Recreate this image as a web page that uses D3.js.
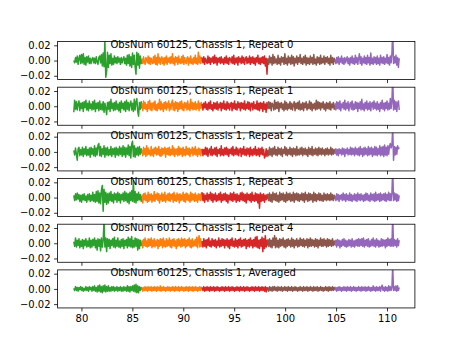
<!DOCTYPE html>
<html>
<head>
<meta charset="utf-8">
<script src="https://cdn.jsdelivr.net/npm/d3@7"></script>
<style>
  body { margin: 0; background: #fff; }
  svg { display: block; }
  text { font-family: "DejaVu Sans", sans-serif; }
</style>
</head>
<body>
<svg id="chart" width="461" height="346"></svg>
<script>
// ---------------- DATA ----------------
// Frequency ranges (x) of the five coloured segments
const segStart = [79.25, 85.95, 91.85, 98.3, 104.9];
const segEnd   = [85.95, 91.85, 98.3, 104.9, 111.2];

const panelTitles = [
  "ObsNum 60125, Chassis 1, Repeat 0",
  "ObsNum 60125, Chassis 1, Repeat 1",
  "ObsNum 60125, Chassis 1, Repeat 2",
  "ObsNum 60125, Chassis 1, Repeat 3",
  "ObsNum 60125, Chassis 1, Repeat 4",
  "ObsNum 60125, Chassis 1, Averaged"
];

const xTicks = [80, 85, 90, 95, 100, 105, 110];
const yTicks = [-0.02, 0.00, 0.02];

// Signal values in units of 0.001, one list per segment
const VALUE_UNIT = 0.001;

const repeat0 = [
  [0,-3,4,-2,6,-5,3,7,-4,8, -3,9,-5,4,-6,5,-2,6,-4,3, -4,2,4,-3,3,-4,5,-2,-5,4, 6,-3,8,-7,10,-8,26,-22,-15,11, -9,7,-4,9,-6,3,-5,6,-3,4, -4,5,-2,3,-5,4,-3,2,5,-4, 3,-6,7,-4,8,-7,5,-9,10,-5, 7,-8,-18,11,-6,9,-10,6,-4,2],
  [3,-4,5,-2,-5,4,2,-3,6,-4, 4,-5,3,-1,-4,5,-3,7,-5,4, -6,9,-3,4,-5,2,5,-4,3,-6, 4,-3,6,-5,3,-2,4,-4,5,-3, 9,-4,3,-6,5,-2,4,-5,6,-3, 2,-4,5,-3,7,-5,4,-2,-4,3, 5,-6,3,-3,6,-4,2,-5,4,-3, 7,-4,3,-5,11,-3,6,-4,4,-2],
  [4,-3,5,-5,3,-1,-4,6,-3,4, -5,3,-2,5,-4,7,-3,4,-6,3, -2,4,-4,5,-3,2,-5,4,-3,6, -4,3,-5,4,2,-3,5,-4,7,-5, 3,-3,4,-6,5,-2,3,-4,6,-3, 4,-5,2,5,-4,3,-3,6,-5,4, -3,5,-4,3,-6,4,-2,7,-4,3, -5,4,-3,5,-4,6,-7,3,-18,2],
  [3,-5,6,-3,4,-6,8,-4,5,-3, 2,-5,7,-4,3,-6,5,-2,4,-5, 9,-4,3,-6,6,-3,4,-5,7,-4, 5,-7,3,-3,6,-5,4,-2,8,-4, 3,-5,5,-3,7,-6,4,-4,3,-5, 6,-3,4,-5,8,-4,2,-6,5,-3, 4,-5,7,-4,3,-3,6,-5,4,-2, 5,-4,3,-6,7,-3,4,-5,3,-2],
  [2,-4,4,-3,5,-5,3,-2,6,-4, 3,-5,4,-3,2,5,-4,3,-6,4, -3,6,-4,3,-5,7,-3,4,-5,3, 9,-4,5,-6,3,-3,6,-4,4,-5, 7,-3,4,-6,10,-4,3,-5,5,-3, 4,-5,6,-4,3,-6,7,-3,4,-4, 5,-5,3,-3,8,-4,4,-6,6,-3, 9,40,-4,5,-3,7,-6,4,-9,3]
];
const repeat1 = [
  [-8,8,-4,6,-5,3,7,-6,4,-3, 5,-7,6,-2,8,-5,4,-6,7,-3, 3,-5,6,-4,8,-7,4,-3,5,-6, 7,-4,3,-5,6,-8,4,-3,-11,5, -4,6,-7,9,-3,4,-6,5,-5,7, -4,3,-6,5,-8,7,-3,4,-5,6, -7,8,-4,5,-6,3,7,-5,4,-7, 9,-5,6,10,-7,-13,5,-4,6,-3],
  [4,-6,7,-3,5,-4,2,-7,6,-3, 8,-5,4,-6,3,5,-4,7,-5,2, -6,4,-3,9,-5,6,-4,3,-7,5, -3,6,-5,4,-2,7,-6,3,-4,5, 8,-5,4,-6,6,-3,5,-7,4,-4, 6,-3,7,-5,3,-6,5,-2,4,-5, 7,-4,3,-6,9,-3,5,-5,4,-4, 6,-5,3,-3,7,-6,4,-3,5,-2],
  [3,-5,4,-2,6,-4,3,-5,5,-3, 7,-4,2,-6,5,-3,4,-4,6,-5, 3,-2,5,-6,4,-3,7,-4,3,-5, 6,-3,4,-5,2,5,-6,4,-3,7, -4,3,-5,6,-2,4,-6,5,-3,4, -4,7,-5,3,-3,6,-4,5,-6,3, 4,-5,6,-3,2,-4,7,-5,4,-6, 5,-3,4,-7,6,-4,3,-8,5,-3],
  [-4,6,-3,5,-6,4,2,-5,8,-4, 5,-3,6,-7,4,-2,5,-4,3,-6, 7,-4,5,-5,3,-3,6,-4,4,-5, 2,6,-6,4,-3,5,-4,7,-5,3, -4,5,-6,4,-2,6,-5,3,-3,7, -4,5,-6,3,-3,4,-5,8,-4,6, -3,5,-5,4,-2,6,-4,3,-6,5, -3,4,-4,6,-5,3,-2,5,-4,2],
  [4,-5,6,-3,5,-4,7,-6,3,-2, 5,-4,8,-5,4,-3,6,-6,2,5, -4,7,-5,3,-4,6,-3,5,-7,4, -3,6,-5,9,-4,3,-6,5,-3,7, -5,4,-4,6,-6,3,5,-4,7,-3, 4,-5,6,-4,3,-7,5,-3,8,-4, 4,-6,5,-3,7,-5,4,-4,10,-3, 6,40,-5,8,-4,6,-7,4,7,-5]
];
const repeat2 = [
  [2,-4,5,-3,-11,4,6,-5,3,-4, 6,-6,4,-3,7,-5,3,-4,5,-7, 6,-3,4,-5,8,-6,5,-4,9,11, -5,7,-6,4,-3,8,-7,5,-4,6, -5,3,-4,7,-6,4,-3,5,-7,6, -4,4,-5,7,-3,5,-6,8,-4,6, -7,5,-3,9,-5,7,-8,10,14,-6, 8,-7,5,-4,6,-5,7,-3,4,-2],
  [3,-5,6,-3,4,-6,8,-4,5,-3, 2,-5,7,-4,3,-6,5,-2,6,-4, 4,-3,7,-5,3,-6,5,-4,4,-2, 6,-7,4,-3,5,-4,6,-5,3,-3, 8,-4,5,-6,3,-3,4,-5,7,-4, 5,-3,4,-6,6,-4,3,-5,7,-3, 4,-4,5,-6,3,-2,6,-5,4,-3, 7,-4,3,-6,5,-3,4,-5,3,-2],
  [4,-5,3,-3,6,-4,5,-6,2,4, -4,7,-5,3,-3,5,-4,6,-6,3, -2,4,-5,8,-4,3,-5,5,-3,6, -4,4,-6,3,-2,5,-4,7,-5,3, -3,6,-4,4,-5,2,5,-6,4,-3, 7,-4,3,-5,5,-3,4,-6,6,-4, 3,-5,4,-3,7,-5,3,-4,5,-6, 4,-3,6,-4,3,-8,-5,4,-6,2],
  [3,-5,6,-4,4,-6,5,-3,7,-4, 3,-5,6,-3,4,-4,5,-6,3,-2, 7,-4,5,-5,3,-3,6,-4,4,-6, 5,-3,4,-5,7,-4,3,-4,5,-3, 6,-5,4,-3,5,-4,3,-6,6,-3, 4,-4,7,-5,3,-3,5,-4,4,-5, 6,-3,4,-4,5,-3,3,-5,4,-3, 5,-4,3,-3,6,-4,4,-3,3,-2],
  [-3,4,-4,3,-5,4,-2,3,-4,5, -3,4,-6,3,-2,5,-4,3,-3,6, -4,5,-3,4,-5,6,-3,4,-4,5, -5,7,-3,4,-6,5,-4,6,-3,4, -5,7,-4,5,-3,6,-6,4,-4,7, -4,6,-5,4,-3,8,-5,6,-4,7, -6,9,-4,6,-5,8,-3,7,11,5, 9,32,-11,7,-4,6,-3,8,4,6]
];
const repeat3 = [
  [3,-4,5,-3,6,-2,4,-5,3,-6, 4,-3,5,-4,2,-6,4,-3,5,-5, 3,-4,7,-5,4,-6,8,-5,9,-7, 6,-8,10,16,-18,11,-6,7,-9,5, -7,6,-4,8,-5,4,-7,6,-3,5, -6,7,-4,5,-7,4,-3,6,-5,8, -4,6,-6,5,-8,7,-4,9,-5,22, -6,8,-7,5,-4,7,-3,4,-5,2],
  [4,-7,5,-3,6,-4,3,-6,7,-5, 4,-3,5,-6,3,-4,8,-5,4,-2, 6,-4,5,-7,3,-3,6,-5,4,-4, 7,-6,3,-3,5,-4,6,-5,4,-2, 5,-6,7,-4,3,-5,6,-3,4,-7, 5,-4,3,-3,7,-5,4,-6,6,-3, 5,-4,3,-6,7,-4,5,-3,4,-5, 6,-4,3,-6,5,-3,4,-4,6,-3],
  [7,-4,5,-6,3,-3,6,-5,4,-2, 7,-4,5,-6,4,-3,6,-5,3,-4, 5,-3,7,-6,4,-4,5,-3,6,-5, 4,-7,3,-3,6,-4,5,-5,7,-3, 4,-6,5,-4,3,-5,6,-3,7,-4, 5,-5,4,-7,6,-3,4,-4,5,-6, 7,-4,3,-5,6,-4,5,-7,4,-14, 6,-5,4,-4,5,-6,3,-3,4,-2],
  [5,-4,6,-5,4,-6,7,-3,5,-4, 6,-5,3,-6,7,-4,5,-3,6,-5, 4,-6,7,-4,5,-3,6,-5,4,-4, 7,-6,5,-3,6,-4,5,-5,4,-3, 6,-4,5,-6,7,-3,4,-5,6,-4, 5,-3,4,-6,7,-4,5,-5,4,-3, 6,-4,5,-4,3,-5,6,-3,4,-4, 5,-3,4,-4,6,-3,4,-4,3,-2],
  [3,-4,5,-3,4,-5,3,-2,4,-4, 6,-3,4,-5,5,-3,3,-4,6,-4, 4,-5,3,-3,5,-4,4,-5,6,-3, 4,-4,5,-3,3,-5,4,-4,6,-3, 5,-4,3,-5,6,-3,4,-4,5,-5, 7,-4,4,-3,5,-5,6,-4,4,-3, 5,-4,6,-5,4,-3,7,-4,5,-4, 6,38,-4,6,-3,5,-5,4,-4,3]
];
const repeat4 = [
  [2,-4,7,-5,4,-3,6,-6,3,-4, 5,-7,4,-3,6,-5,3,-4,7,-6, 4,-5,5,-3,7,-6,4,-9,6,-4, 5,-10,7,-5,4,30,-5,7,-11,6, -4,5,-7,4,-3,6,-5,8,-6,4, -4,7,-5,3,-6,5,-4,6,-7,4, -3,5,-6,8,-4,6,-5,9,-6,4, -5,7,-4,6,-9,5,-7,4,-3,2],
  [4,-6,5,-3,7,-4,3,-5,6,-4, 5,-3,7,-6,4,-4,6,-5,3,-3, 5,-7,4,-4,6,-3,5,-6,7,-4, 3,-5,6,-4,4,-3,7,-5,4,-6, 5,-3,6,-4,3,-7,5,-4,6,-3, 4,-5,7,-4,5,-3,6,-6,4,-4, 5,-3,7,-5,4,-6,6,-4,3,-3, 5,-4,8,-6,4,10,-5,6,-4,2],
  [3,-5,6,-4,4,-6,5,-3,7,-4, 3,-5,6,-3,4,-4,5,-6,3,-3, 7,-5,4,-4,6,-3,5,-6,4,-3, 6,-5,4,-7,5,-3,7,-4,3,-5, 6,-4,4,-6,5,-3,7,-5,4,-4, 5,-3,6,-7,4,-4,5,-5,7,-3, 4,-6,5,-4,8,-5,9,-6,4,-7, 5,-4,8,-11,6,-7,10,-5,4,-3],
  [5,-4,6,-5,4,-6,7,-3,10,-6, 7,-5,4,-6,6,-4,5,-3,7,-5, 4,-6,5,-4,6,-3,4,-5,7,-4, 5,-6,4,-3,6,-5,4,-4,7,-3, 5,-4,6,-5,4,-3,6,-6,5,-4, 7,-4,5,-3,4,-5,6,-4,5,-6, 4,-3,7,-4,5,-4,6,-3,4,-5, 6,-4,5,-3,4,-4,6,-3,3,-2],
  [-3,4,-5,5,-3,4,-6,3,-4,5, -3,6,-4,4,-5,3,-4,5,-3,4, -5,6,-4,3,-5,4,-3,5,-4,6, -4,5,-3,6,-4,7,-5,4,-3,5, -4,6,-5,3,-4,5,-3,7,-4,4, -5,6,-3,4,-5,3,-4,6,-4,5, -3,4,-6,5,-4,7,-3,5,-4,6, -4,36,-4,5,-3,4,-5,6,-3,4]
];
const averaged = [
  [1,-2,3,-2,2,-3,2,-1,3,-2, 2,-3,1,-2,3,-2,2,-3,3,-1, 2,-3,3,-2,4,-3,2,-4,4,-3, 5,-4,3,-5,4,-3,5,-4,3,-3, 4,-3,2,-3,3,-2,3,-3,2,-2, 3,-3,2,-2,3,-3,2,-3,3,-2, 2,-3,4,-3,3,-4,3,-2,4,-3, 5,-4,6,-5,4,-5,3,-2,2,-1],
  [2,-3,2,-2,3,-2,2,-3,3,-2, 2,-2,3,-3,2,-2,3,-2,2,-3, 3,-2,2,-2,4,-3,2,-2,3,-2, 2,-3,2,-2,3,-2,2,-3,2,-2, 3,-2,2,-3,3,-2,2,-2,3,-3, 2,-2,3,-2,2,-3,2,-2,3,-2, 2,-3,3,-2,2,-2,3,-3,2,-2, 3,-2,2,-3,2,-2,3,-2,2,-1],
  [2,-2,3,-3,2,-2,3,-2,2,-3, 3,-2,2,-2,3,-3,2,-2,3,-2, 2,-3,2,-2,3,-2,2,-3,3,-2, 2,-2,3,-3,2,-2,3,-2,2,-3, 2,-2,3,-2,2,-3,3,-2,2,-2, 3,-3,2,-2,3,-2,2,-3,2,-2, 3,-2,2,-3,3,-2,2,-2,3,-3, 2,-2,3,-2,2,-3,3,-4,2,-2],
  [2,-3,3,-2,2,-3,3,-2,3,-2, 2,-3,3,-2,2,-2,3,-3,2,-2, 3,-2,2,-3,3,-2,2,-2,3,-3, 2,-2,3,-2,2,-3,2,-2,3,-2, 2,-3,3,-2,2,-2,3,-3,2,-2, 3,-2,2,-3,3,-2,2,-2,3,-3, 2,-2,3,-2,2,-3,2,-2,3,-2, 2,-3,3,-2,2,-2,3,-2,2,-1],
  [-2,2,-3,2,-2,3,-2,2,-3,2, -2,3,-2,2,-3,3,-2,2,-2,3, -3,2,-2,3,-2,2,-3,2,-2,3, -2,2,-3,3,-2,2,-2,3,-3,2, -2,3,-2,2,-3,2,-2,4,-2,2, -3,3,-2,2,-2,3,-3,2,5,-2, 2,-3,3,-2,2,-3,4,-2,3,-2, 2,30,-2,3,-2,4,-3,4,-2,2]
];
const panelData = [repeat0, repeat1, repeat2, repeat3, repeat4, averaged];

// ---------------- STYLE / LAYOUT ----------------
const segColors = ["#2ca02c", "#ff7f0e", "#d62728", "#8c564b", "#9467bd"];
const W = 461, H = 346;
const left = 57.6, right = 414.9, figTop = 41.52, figBottom = 307.94;
const nPanels = panelData.length;
const panelH = (figBottom - figTop) / (nPanels + (nPanels - 1) * 0.2);
const gap = panelH * 0.2;

const svg = d3.select("#chart");
svg.append("rect").attr("width", W).attr("height", H).attr("fill", "#fff");

const x = d3.scaleLinear().domain([77.66, 112.74]).range([left, right]);
const fmtY = d => (d < 0 ? "\u2212" : "") + d3.format(".2f")(Math.abs(d));

panelData.forEach((segments, p) => {
  const top = figTop + p * (panelH + gap);
  const y = d3.scaleLinear().domain([-0.025, 0.025]).range([top + panelH, top]);
  const g = svg.append("g");

  const clipId = "clip" + p;
  svg.append("clipPath").attr("id", clipId)
    .append("rect").attr("x", left).attr("y", top)
    .attr("width", right - left).attr("height", panelH);

  const line = d3.line().x(d => x(d[0])).y(d => y(d[1]));
  const lines = g.append("g").attr("clip-path", `url(#${clipId})`);
  segments.forEach((vals, s) => {
    const n = vals.length;
    const pts = vals.map((v, i) => [segStart[s] + i * (segEnd[s] - segStart[s]) / (n - 1), v * VALUE_UNIT]);
    lines.append("path").datum(pts)
      .attr("d", line)
      .attr("fill", "none")
      .attr("stroke", segColors[s])
      .attr("stroke-width", 1.5)
      .attr("stroke-linejoin", "round");
  });

  // title text inside axes
  g.append("text")
    .attr("x", left + 0.148 * (right - left))
    .attr("y", top + 6.6)
    .attr("font-size", 10)
    .attr("fill", "#000")
    .text(panelTitles[p]);

  // y axis
  const ya = g.append("g").attr("transform", `translate(${left},0)`)
    .call(d3.axisLeft(y).tickValues(yTicks).tickFormat(fmtY).tickSize(3.5).tickPadding(3.5));
  ya.select(".domain").remove();
  ya.selectAll("line").attr("stroke", "#000").attr("stroke-width", 0.8);
  ya.selectAll("text").attr("font-size", 10).attr("font-family", "DejaVu Sans").attr("fill", "#000");

  // x axis
  const xa = g.append("g").attr("transform", `translate(0,${top + panelH})`)
    .call(d3.axisBottom(x).tickValues(xTicks).tickFormat(p === nPanels - 1 ? d3.format("d") : "").tickSize(3.5).tickPadding(3.5));
  xa.select(".domain").remove();
  xa.selectAll("line").attr("stroke", "#000").attr("stroke-width", 0.8);
  xa.selectAll("text").attr("font-size", 10).attr("font-family", "DejaVu Sans").attr("fill", "#000");

  // frame
  g.append("rect").attr("x", left).attr("y", top)
    .attr("width", right - left).attr("height", panelH)
    .attr("fill", "none").attr("stroke", "#000").attr("stroke-width", 0.8);
});
</script>
</body>
</html>
